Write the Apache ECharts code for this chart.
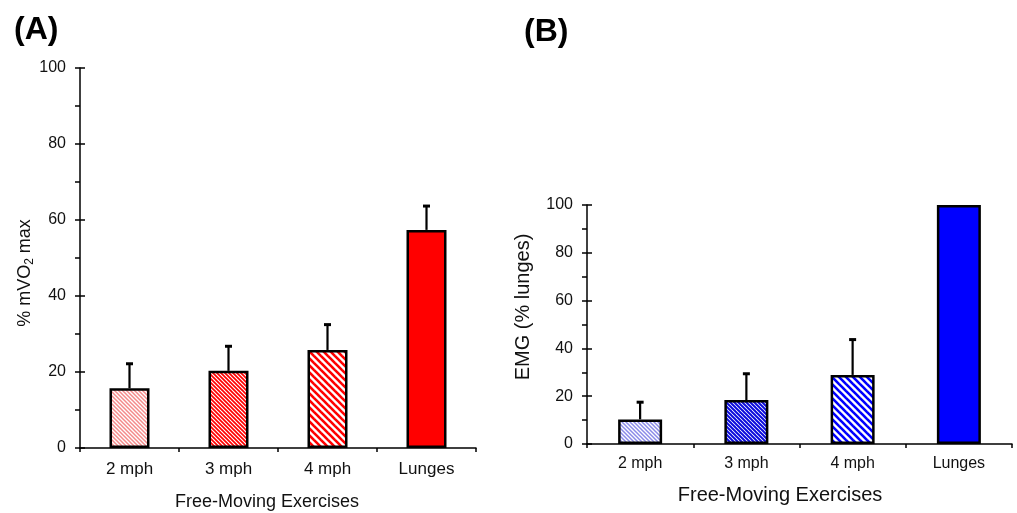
<!DOCTYPE html>
<html>
<head>
<meta charset="utf-8">
<script src="https://cdn.jsdelivr.net/npm/echarts@6/dist/echarts.min.js"></script>
<style>
html,body{margin:0;padding:0;background:#fff;}
#chart{width:1017px;height:513px;}
</style>
</head>
<body>
<div id="chart"></div>
<script>
// ---- data ----
const categories = ['2 mph', '3 mph', '4 mph', 'Lunges'];
const vo2Mean = [15.7, 20.3, 25.8, 57.4];
const vo2Err = [6.6, 6.6, 6.8, 6.4];
const emgMean = [10.3, 18.4, 28.9, 100];
const emgErr = [7.4, 11.2, 15.0, 0];
const yTicksA = { min: 0, max: 100, interval: 20 };
const yTicksB = { min: 0, max: 100, interval: 20 };

// ---- styles ----
function stripe(color, period, width, bg) {
  const c = document.createElement('canvas');
  c.width = period; c.height = period;
  const ctx = c.getContext('2d');
  ctx.fillStyle = bg || '#ffffff';
  ctx.fillRect(0, 0, period, period);
  ctx.strokeStyle = color;
  ctx.lineWidth = width;
  for (let k = -1; k <= 1; k++) {
    ctx.beginPath();
    ctx.moveTo(k * period - 1, -1);
    ctx.lineTo(k * period + period + 1, period + 1);
    ctx.stroke();
  }
  return { image: c, repeat: 'repeat' };
}
const redFills = [stripe('#f48a8a', 4, 1.5), stripe('#ff0000', 4, 1.7), stripe('#ff0000', 7, 2.6), '#ff0000'];
const blueFills = [stripe('#8a8ae8', 4, 1.5), stripe('#0c0cdc', 4, 2.0), stripe('#0000ff', 7, 2.6), '#0000ff'];

const FONT = 'Liberation Sans, Arial, sans-serif';
const TXT = '#111';

function barData(vals, fills) {
  return vals.map((v, i) => ({ value: v, itemStyle: { color: fills[i] } }));
}
function errData(vals, errs) {
  return vals.map((v, i) => [i, v, errs[i]]);
}
function renderErr(params, api) {
  const i = api.value(0), v = api.value(1), e = api.value(2);
  if (!e) return null;
  const p0 = api.coord([i, v]);
  const p1 = api.coord([i, v + e]);
  return {
    type: 'group',
    children: [
      { type: 'line', shape: { x1: p0[0], y1: p0[1], x2: p1[0], y2: p1[1] }, style: { stroke: '#000', lineWidth: 2.2 } },
      { type: 'line', shape: { x1: p1[0] - 3.5, y1: p1[1] + 0.5, x2: p1[0] + 3.5, y2: p1[1] + 0.5 }, style: { stroke: '#000', lineWidth: 3 } }
    ]
  };
}

function xAxisCfg(grid, fontSize, margin) {
  return {
    type: 'category', gridIndex: grid, data: categories,
    axisLine: { lineStyle: { color: '#000', width: 1.5 } },
    axisTick: { show: true, length: 4, alignWithLabel: false, lineStyle: { color: '#000', width: 1.5 } },
    axisLabel: { fontSize: fontSize, margin: margin, color: TXT, fontFamily: FONT },
    splitLine: { show: false }
  };
}
function yAxisCfg(grid, t, inside) {
  return {
    type: 'value', gridIndex: grid, position: 'left',
    min: t.min, max: t.max, interval: t.interval,
    axisLine: { show: !inside, lineStyle: { color: '#000', width: 1.5 } },
    axisTick: { show: true, inside: !!inside, length: 5, lineStyle: { color: '#000', width: 1.5 } },
    minorTick: { show: !inside, splitNumber: 2, length: 5, lineStyle: { color: '#000', width: 1.5 } },
    axisLabel: { show: !inside, fontSize: 16, margin: 14, color: TXT, fontFamily: FONT },
    splitLine: { show: false }, minorSplitLine: { show: false }
  };
}

const chart = echarts.init(document.getElementById('chart'), null, { renderer: 'canvas' });
chart.setOption({
  backgroundColor: '#ffffff',
  animation: false,
  grid: [
    { left: 80, top: 68, width: 396, height: 380 },
    { left: 587, top: 205, width: 425, height: 239 }
  ],
  xAxis: [xAxisCfg(0, 17, 13), xAxisCfg(1, 16, 12)],
  yAxis: [yAxisCfg(0, yTicksA, false), yAxisCfg(1, yTicksB, false), yAxisCfg(0, yTicksA, true), yAxisCfg(1, yTicksB, true)],
  series: [
    { type: 'bar', xAxisIndex: 0, yAxisIndex: 0, barWidth: 40, data: barData(vo2Mean, redFills),
      itemStyle: { borderColor: '#000', borderWidth: 2.5 } },
    { type: 'custom', xAxisIndex: 0, yAxisIndex: 0, renderItem: renderErr, data: errData(vo2Mean, vo2Err),
      encode: { x: 0, y: 1 }, z: 3 },
    { type: 'bar', xAxisIndex: 1, yAxisIndex: 1, barWidth: 44, data: barData(emgMean, blueFills),
      itemStyle: { borderColor: '#000', borderWidth: 2.5 } },
    { type: 'custom', xAxisIndex: 1, yAxisIndex: 1, renderItem: renderErr, data: errData(emgMean, emgErr),
      encode: { x: 0, y: 1 }, z: 3 }
  ],
  graphic: [
    { type: 'text', x: 14, y: 30, style: { text: '(A)', font: 'bold 32px ' + FONT, fill: '#000', textAlign: 'left', textVerticalAlign: 'middle' } },
    { type: 'text', x: 524, y: 32, style: { text: '(B)', font: 'bold 32px ' + FONT, fill: '#000', textAlign: 'left', textVerticalAlign: 'middle' } },
    { type: 'text', x: 267, y: 502, style: { text: 'Free-Moving Exercises', font: '18px ' + FONT, fill: TXT, textAlign: 'center', textVerticalAlign: 'middle' } },
    { type: 'text', x: 780, y: 495, style: { text: 'Free-Moving Exercises', font: '20px ' + FONT, fill: TXT, textAlign: 'center', textVerticalAlign: 'middle' } },
    { type: 'text', x: 25, y: 273, rotation: Math.PI / 2,
      style: { text: '% mVO{sub|2} max', font: '18px ' + FONT, fill: TXT, textAlign: 'center', textVerticalAlign: 'middle',
        rich: { sub: { fontSize: 12, fontFamily: FONT, fill: TXT, padding: [9, 0, 0, 0] } } } },
    { type: 'text', x: 523, y: 307, rotation: Math.PI / 2,
      style: { text: 'EMG (% lunges)', font: '20px ' + FONT, fill: TXT, textAlign: 'center', textVerticalAlign: 'middle' } }
  ]
});
</script>
</body>
</html>
